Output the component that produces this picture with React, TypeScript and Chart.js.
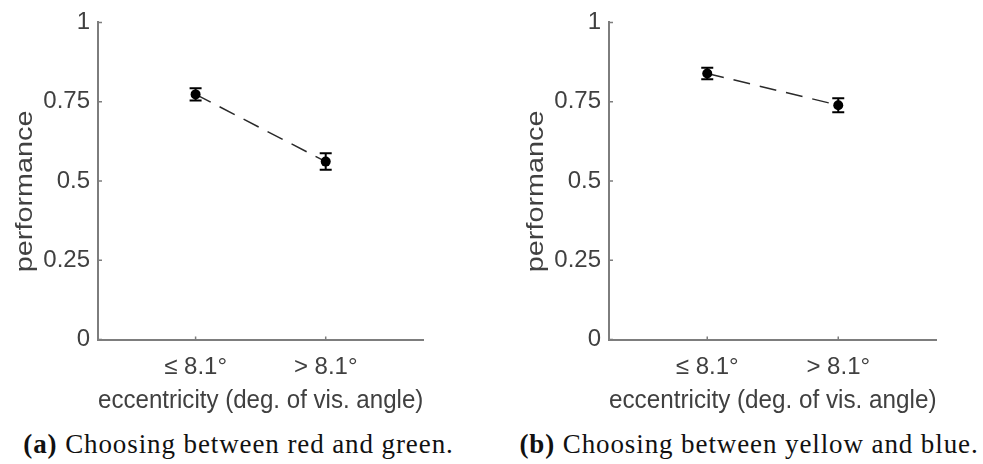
import { useEffect, useRef } from 'react';
import { Chart, registerables } from 'chart.js';

Chart.register(...registerables);

// Eccentricity bins shown on the x axis and their positions on the linear scale
const eccentricityBins = ['≤ 8.1°', '> 8.1°'];
const binPositions = [1, 2];

// Mean performance and error (± half-length of each bar)
const redGreenPerformance = [0.773, 0.561];
const redGreenError = [0.019, 0.026];
const yellowBluePerformance = [0.839, 0.739];
const yellowBlueError = [0.018, 0.022];

// Y axis ticks
const performanceTicks = [0, 0.25, 0.5, 0.75, 1];
const performanceTickLabels = ['0', '0.25', '0.5', '0.75', '1'];

const SANS = '"Liberation Sans", Arial, Helvetica, sans-serif';
const SERIF = '"Liberation Serif", "Times New Roman", serif';
const AXIS_GRAY = '#7d7d7d';
const TEXT_GRAY = '#404040';
const CANVAS_H = 420;

// Vertical error bars with caps, drawn through the chart scales
const errorBarPlugin = {
  id: 'errorBars',
  beforeDatasetsDraw(chart: any) {
    const errs: number[] = chart.options.plugins.errorBars.errors;
    const ds = chart.data.datasets[0];
    const xs = chart.scales.x;
    const ys = chart.scales.y;
    const ctx = chart.ctx;
    ctx.save();
    ctx.strokeStyle = '#000';
    ctx.lineWidth = 2;
    ds.data.forEach((p: any, i: number) => {
      const px = xs.getPixelForValue(p.x);
      const top = ys.getPixelForValue(p.y + errs[i]);
      const bot = ys.getPixelForValue(p.y - errs[i]);
      ctx.beginPath();
      ctx.moveTo(px, top);
      ctx.lineTo(px, bot);
      ctx.moveTo(px - 6, top);
      ctx.lineTo(px + 6, top);
      ctx.moveTo(px - 6, bot);
      ctx.lineTo(px + 6, bot);
      ctx.stroke();
    });
    ctx.restore();
  },
};

// Inward-pointing tick marks and the rotated y axis title
const axisDecorPlugin = {
  id: 'axisDecor',
  afterDraw(chart: any) {
    const { ctx, chartArea } = chart;
    const xs = chart.scales.x;
    const ys = chart.scales.y;
    ctx.save();
    ctx.strokeStyle = AXIS_GRAY;
    ctx.lineWidth = 1.5;
    ctx.beginPath();
    performanceTicks.forEach((t) => {
      const py = ys.getPixelForValue(t);
      ctx.moveTo(chartArea.left, py);
      ctx.lineTo(chartArea.left + 4, py);
    });
    binPositions.forEach((b) => {
      const px = xs.getPixelForValue(b);
      ctx.moveTo(px, chartArea.bottom);
      ctx.lineTo(px, chartArea.bottom - 3);
    });
    ctx.stroke();

    ctx.translate(chartArea.left - 73, chartArea.top + 169);
    ctx.rotate(-Math.PI / 2);
    ctx.scale(1.2, 1);
    ctx.fillStyle = TEXT_GRAY;
    ctx.font = `24px ${SANS}`;
    ctx.textAlign = 'center';
    ctx.textBaseline = 'middle';
    ctx.fillText('performance', 0, 0);
    ctx.restore();
  },
};

function makeConfig(values: number[], errors: number[], padRight: number): any {
  return {
    type: 'line',
    data: {
      datasets: [
        {
          data: binPositions.map((x, i) => ({ x, y: values[i] })),
          borderColor: '#2a2a2a',
          borderWidth: 1.5,
          borderDash: [17, 10],
          pointRadius: 5,
          pointBackgroundColor: '#000',
          pointBorderWidth: 0,
          fill: false,
          tension: 0,
        },
      ],
    },
    options: {
      responsive: false,
      animation: false,
      layout: { padding: { top: 14.5, right: padRight, left: 0, bottom: 0 } },
      plugins: {
        legend: { display: false },
        tooltip: { enabled: false },
        errorBars: { errors },
      },
      scales: {
        x: {
          type: 'linear',
          min: 0.25,
          max: 2.75,
          afterBuildTicks: (s: any) => {
            s.ticks = binPositions.map((v) => ({ value: v }));
          },
          afterFit: (s: any) => {
            s.height = CANVAS_H - 339.5;
          },
          grid: { drawOnChartArea: false, drawTicks: false, color: 'rgba(0,0,0,0)' },
          border: { display: true, color: AXIS_GRAY, width: 2 },
          ticks: {
            padding: 13,
            autoSkip: false,
            maxRotation: 0,
            color: TEXT_GRAY,
            font: { family: SANS, size: 24 },
            callback: (_v: any, i: number) => eccentricityBins[i],
          },
          title: {
            display: true,
            text: 'eccentricity (deg. of vis. angle)',
            color: TEXT_GRAY,
            font: { family: SANS, size: 26.5 },
            padding: { top: 0, bottom: 3 },
          },
        },
        y: {
          type: 'linear',
          min: 0,
          max: 1,
          afterBuildTicks: (s: any) => {
            s.ticks = performanceTicks.map((v) => ({ value: v }));
          },
          afterFit: (s: any) => {
            s.width = 98;
          },
          grid: { drawOnChartArea: false, drawTicks: false, color: 'rgba(0,0,0,0)' },
          border: { display: true, color: AXIS_GRAY, width: 2 },
          ticks: {
            padding: 8,
            autoSkip: false,
            color: TEXT_GRAY,
            font: { family: SANS, size: 24 },
            callback: (_v: any, i: number) => performanceTickLabels[i],
          },
        },
      },
    },
    plugins: [errorBarPlugin, axisDecorPlugin],
  };
}

function Panel(props: { values: number[]; errors: number[]; left: number; width: number; padRight: number }) {
  const ref = useRef<HTMLCanvasElement>(null);
  useEffect(() => {
    const chart = new Chart(ref.current as HTMLCanvasElement, makeConfig(props.values, props.errors, props.padRight));
    return () => chart.destroy();
  }, []);
  return (
    <canvas
      ref={ref}
      width={props.width}
      height={CANVAS_H}
      style={{ position: 'absolute', left: props.left, top: 0, width: props.width, height: CANVAS_H, display: 'block' }}
    />
  );
}

function Caption(props: { tag: string; text: string; center: number }) {
  return (
    <div
      style={{
        position: 'absolute',
        left: props.center - 300,
        top: 431,
        width: 600,
        textAlign: 'center',
        whiteSpace: 'nowrap',
        fontFamily: SERIF,
        fontSize: 27,
        lineHeight: '27px',
        letterSpacing: '0.9px',
        color: '#111',
      }}
    >
      <b>{props.tag}</b> {props.text}
    </div>
  );
}

export default function App() {
  return (
    <div style={{ position: 'absolute', left: 0, top: 0, width: 983, height: 464, background: '#fff', overflow: 'hidden' }}>
      <Panel values={redGreenPerformance} errors={redGreenError} left={0} width={490} padRight={66.7} />
      <Panel values={yellowBluePerformance} errors={yellowBlueError} left={511} width={472} padRight={46.5} />
      <Caption tag="(a)" text="Choosing between red and green." center={238.5} />
      <Caption tag="(b)" text="Choosing between yellow and blue." center={749} />
    </div>
  );
}
